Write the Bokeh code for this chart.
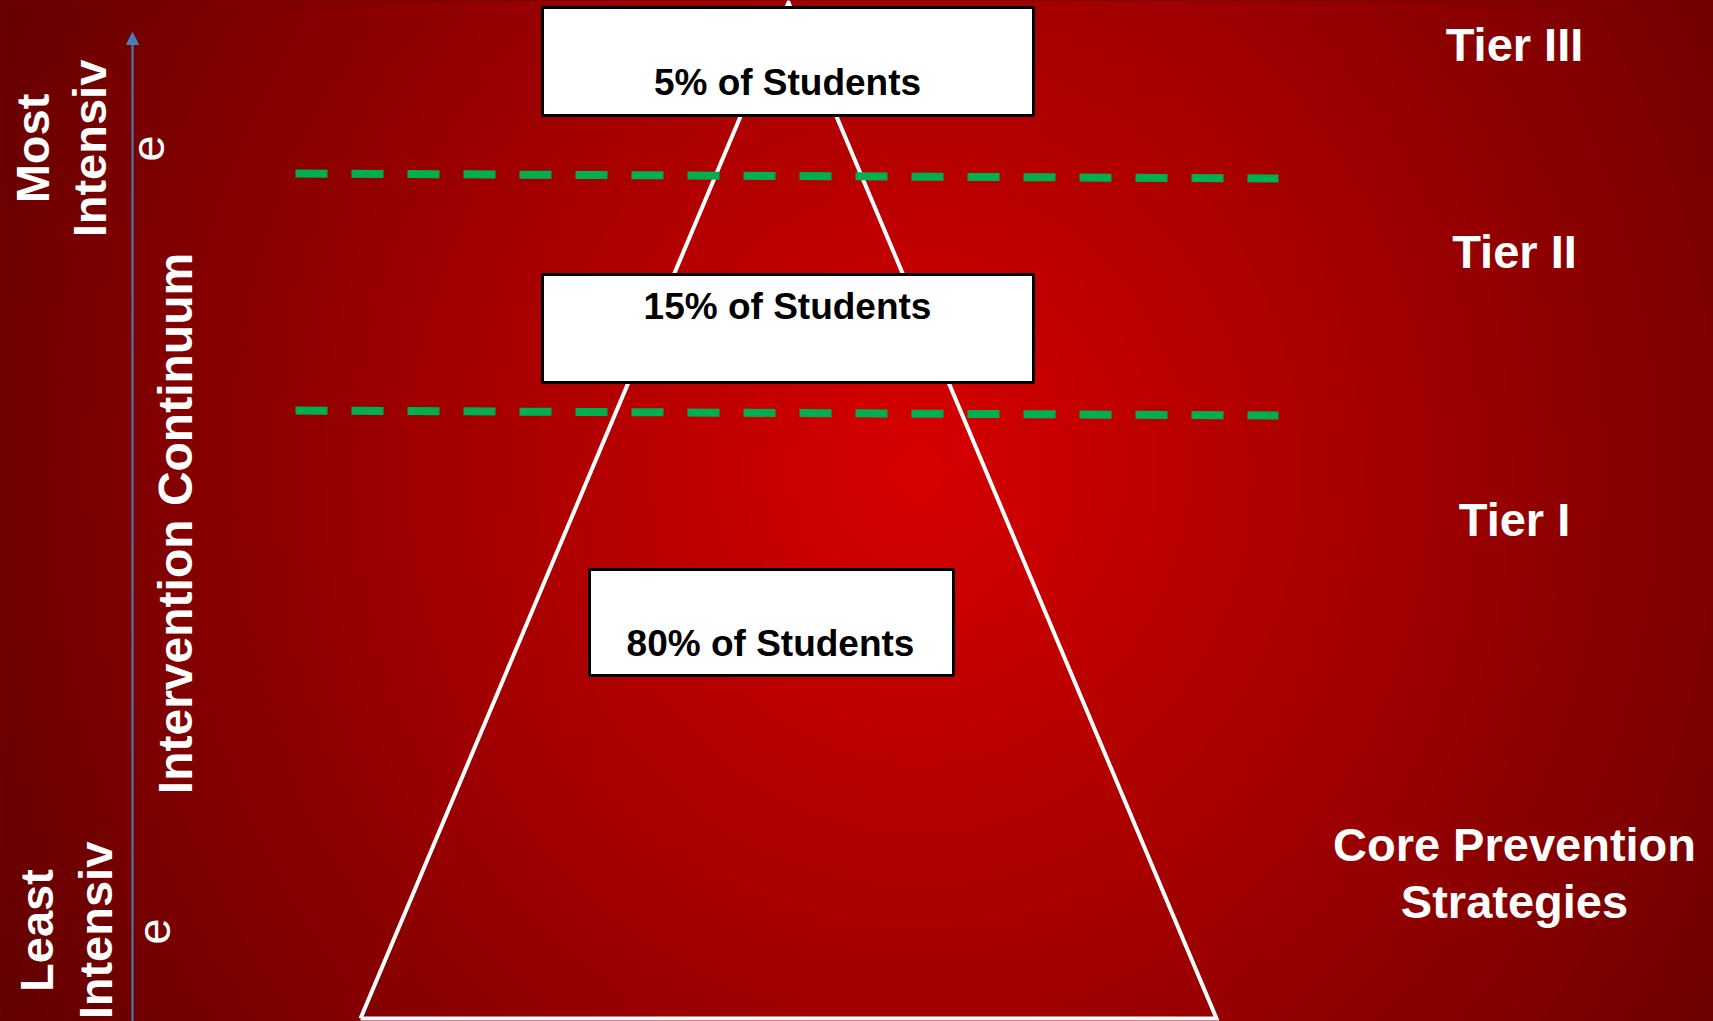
import numpy as np
from bokeh.plotting import figure
from bokeh.models import Range1d, Arrow, NormalHead
from bokeh.core.properties import value
from bokeh.embed import file_html
from bokeh.resources import INLINE

# ---- content ----
box_labels = ["5% of Students", "15% of Students", "80% of Students"]
tier_labels = ["Tier III", "Tier II", "Tier I", "Core Prevention", "Strategies"]
left_top_lines = ["Most", "Intensiv", "e"]
left_bottom_lines = ["Least", "Intensiv", "e"]
axis_label = "Intervention Continuum"

W, H = 1713, 1021
FONT = value("Liberation Sans")

p = figure(width=W, height=H, x_range=Range1d(0, W), y_range=Range1d(H, 0),
           output_backend="svg", toolbar_location=None, min_border=0)
p.axis.visible = False
p.grid.visible = False
p.outline_line_color = None
p.background_fill_color = "#7a0000"
p.border_fill_color = "#7a0000"

# ---- radial background gradient ----
step = 4
ys, xs = np.mgrid[0:H:step, 0:W:step].astype(float)
cx, cy = 918.0, 470.0
dist = np.sqrt((xs - cx) ** 2 + (0.92 * (ys - cy)) ** 2)
r = np.clip(216 - 0.112 * dist, 92, 216).astype(np.uint32)
img = (np.uint32(255) << np.uint32(24)) | r
img = np.ascontiguousarray(img.astype(np.uint32))
p.image_rgba(image=[img], x=0, y=0, dw=W, dh=H)

# ---- pyramid ----
p.line(x=[360, 788, 1216, 360], y=[1018, 2, 1018, 1018], line_color="white",
       line_width=4, line_join="miter")

# ---- green dashed tier separators ----
p.line(x=[295, 1278], y=[173, 178], line_color="#00b050", line_width=8, line_dash="32 24")
p.line(x=[295, 1278], y=[410, 415], line_color="#00b050", line_width=8, line_dash="32 24")

# ---- boxes ----
p.quad(left=[542, 542, 589], right=[1033, 1033, 953], top=[7, 274, 569],
       bottom=[115, 382, 675], fill_color="white", line_color="black", line_width=3)
p.text(x=[787, 787, 770], y=[82, 306, 643], text=box_labels, text_color="black",
       text_font=FONT, text_font_style="bold", text_font_size="37px",
       text_align="center", text_baseline="alphabetic")

# ---- right tier labels ----
p.text(x=[1514] * 5, y=[44, 251, 519, 844, 901], text=tier_labels, text_color="white",
       text_font=FONT, text_font_style="bold", text_font_size="47px",
       text_align="center", text_baseline="alphabetic")

# ---- left arrow ----
p.add_layout(Arrow(end=NormalHead(size=12, fill_color="#4a7ebb", line_color="#4a7ebb"),
                   x_start=132, y_start=H, x_end=132, y_end=32,
                   line_color="#4a7ebb", line_width=2))

# ---- left rotated texts ----
ang = np.pi / 2
p.text(x=[32, 89], y=[148, 148], text=left_top_lines[:2], angle=ang, text_color="white",
       text_font=FONT, text_font_style="bold", text_font_size="47px",
       text_align="center", text_baseline="alphabetic")
p.text(x=[147], y=[148], text=left_top_lines[2:], angle=ang, text_color="white",
       text_font=FONT, text_font_style="normal", text_font_size="47px",
       text_align="center", text_baseline="alphabetic")
p.text(x=[36, 95], y=[930, 930], text=left_bottom_lines[:2], angle=ang, text_color="white",
       text_font=FONT, text_font_style="bold", text_font_size="47px",
       text_align="center", text_baseline="alphabetic")
p.text(x=[153], y=[931], text=left_bottom_lines[2:], angle=ang, text_color="white",
       text_font=FONT, text_font_style="normal", text_font_size="47px",
       text_align="center", text_baseline="alphabetic")
p.text(x=[175], y=[523], text=[axis_label], angle=ang, text_color="white",
       text_font=FONT, text_font_style="bold", text_font_size="48px",
       text_align="center", text_baseline="alphabetic")

html = file_html(p, INLINE)
html = html.replace("<head>", "<head><style>html,body{margin:0;padding:0;overflow:hidden;background:#6e0000}</style>", 1)
open("out.html", "w").write(html)
